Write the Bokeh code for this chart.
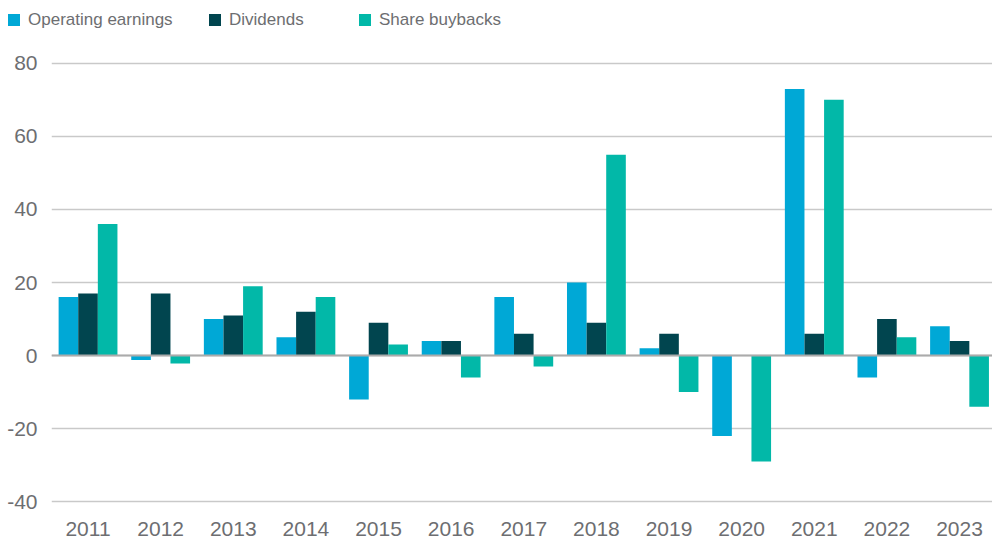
from bokeh.plotting import figure
from bokeh.layouts import column
from bokeh.models import (Range1d, FixedTicker, Span, Legend, LegendItem)
from bokeh.embed import file_html
from bokeh.resources import INLINE

years = ["2011", "2012", "2013", "2014", "2015", "2016", "2017",
         "2018", "2019", "2020", "2021", "2022", "2023"]
operating_earnings = [16, -1.2, 10, 5, -12, 4, 16, 20, 2, -22, 73, -6, 8]
dividends = [17, 17, 11, 12, 9, 4, 6, 9, 6, 0, 6, 10, 4]
share_buybacks = [36, -2.2, 19, 16, 3, -6, -3, 55, -10, -29, 70, 5, -14]
y_ticks = [-40, -20, 0, 20, 40, 60, 80]

series_names = ["Operating earnings", "Dividends", "Share buybacks"]
colors = ["#00a8d6", "#01454f", "#02b8a8"]

TEXT = "#6d6e71"
FONT = "Liberation Sans"

# ---- main chart ----
p = figure(width=992, height=504, output_backend="svg", toolbar_location=None,
           x_range=Range1d(-0.503, 12.454), y_range=Range1d(-40.5, 80.5),
           min_border_left=51, min_border_right=0, min_border_top=21,
           min_border_bottom=41)
p.frame_align = False
p.outline_line_color = None
p.background_fill_color = "white"
p.border_fill_color = "white"

xs = list(range(len(years)))
bw = 0.27
offsets = [-bw, 0, bw]
for vals, off, col in zip([operating_earnings, dividends, share_buybacks], offsets, colors):
    p.vbar(x=[x + off for x in xs], top=vals, bottom=0, width=bw,
           fill_color=col, line_color=None)

p.add_layout(Span(location=0, dimension="width", line_color="#ababab", line_width=2))

p.xaxis.ticker = FixedTicker(ticks=xs)
p.xaxis.major_label_overrides = {i: y for i, y in enumerate(years)}
p.yaxis.ticker = FixedTicker(ticks=y_ticks)
p.yaxis.major_label_overrides = {t: str(t) for t in y_ticks}
for ax in (p.xaxis[0], p.yaxis[0]):
    ax.axis_line_color = None
    ax.major_tick_line_color = None
    ax.minor_tick_line_color = None
    ax.major_tick_out = 0
    ax.major_tick_in = 0
    ax.major_label_text_font = FONT
    ax.major_label_text_font_size = "21px"
    ax.major_label_text_color = TEXT
p.xaxis.major_label_standoff = 18
p.yaxis.major_label_standoff = 14

p.xgrid.grid_line_color = None
p.ygrid.ticker = FixedTicker(ticks=y_ticks)
p.ygrid.grid_line_color = "#c9c9c9"
p.ygrid.grid_line_width = 1.4

# ---- legend strip ----
lg = figure(width=992, height=40, output_backend="svg", toolbar_location=None,
            x_range=Range1d(0, 1), y_range=Range1d(0, 1),
            x_axis_location=None, y_axis_location=None,
            min_border_left=0, min_border_right=0, min_border_top=0,
            min_border_bottom=0)
lg.frame_align = False
lg.outline_line_color = None
lg.xgrid.visible = False
lg.ygrid.visible = False
lg.border_fill_color = "white"

leg_x = [6, 207, 357]
for name, col, lx in zip(series_names, colors, leg_x):
    # swatch renderer placed below the visible strip, used only for the legend glyph
    r = lg.vbar(x=[0.5], top=[-5], bottom=[-6], width=0.1, fill_color=col, line_color=None)
    leg = Legend(items=[LegendItem(label=name, renderers=[r])],
                 location=(lx, 8.5), orientation="horizontal",
                 border_line_color=None, background_fill_alpha=0,
                 padding=0, margin=0, glyph_width=15, glyph_height=15,
                 label_standoff=7, label_height=24,
                 label_text_font=FONT, label_text_font_size="17px",
                 label_text_color=TEXT)
    lg.add_layout(leg)

layout = column(lg, p, spacing=0)
open("out.html", "w").write(file_html(layout, INLINE))
